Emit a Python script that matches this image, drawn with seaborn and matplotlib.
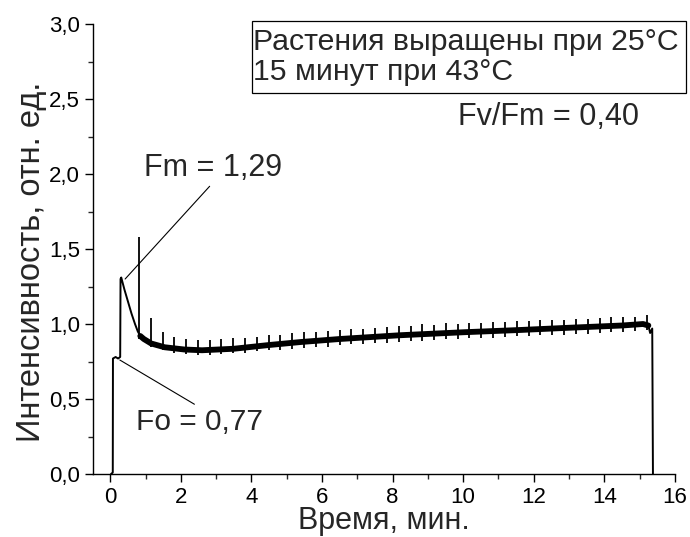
import matplotlib
matplotlib.use('Agg')
import matplotlib.pyplot as plt
import pandas as pd
import seaborn as sns
from matplotlib.patches import Rectangle
from matplotlib.ticker import MultipleLocator

# fluorescence trace (time in min, rel. units)
trace_t = [0.02, 0.07, 0.075, 0.15, 0.22, 0.28, 0.29, 0.31, 0.40, 0.50, 0.60, 0.70,
           0.78, 0.85, 0.95, 1.16, 1.54, 2.10, 2.60, 3.50, 4.50, 5.40, 6.50, 8.20,
           10.0, 11.6, 13.0, 14.5, 15.10, 15.25, 15.30, 15.36, 15.38]
trace_v = [0.00, 0.01, 0.77, 0.78, 0.77, 0.78, 1.30, 1.31, 1.23, 1.15, 1.07, 1.00,
           0.95, 0.92, 0.90, 0.87, 0.845, 0.83, 0.825, 0.835, 0.86, 0.88, 0.90, 0.925,
           0.945, 0.96, 0.975, 0.99, 1.00, 0.99, 0.94, 0.97, 0.00]

# saturating flash spikes
spike_t = [0.80, 1.14, 1.48, 1.81, 2.14, 2.48, 2.82, 3.15, 3.48, 3.82, 4.16, 4.49,
           4.82, 5.16, 5.49, 5.83, 6.16, 6.50, 6.83, 7.17, 7.50, 7.84, 8.17, 8.51,
           8.84, 9.18, 9.51, 9.85, 10.18, 10.52, 10.85, 11.19, 11.52, 11.86, 12.19,
           12.53, 12.86, 13.20, 13.53, 13.87, 14.20, 14.54, 14.87, 15.21]
spike_hi = [1.58, 1.04, 0.95, 0.915, 0.90, 0.895, 0.895, 0.90, 0.905, 0.91, 0.915, 0.925,
            0.93, 0.94, 0.945, 0.95, 0.955, 0.96, 0.965, 0.97, 0.975, 0.98, 0.985, 0.99,
            1.00, 0.995, 1.005, 1.00, 1.01, 1.01, 1.015, 1.015, 1.02, 1.02, 1.025,
            1.03, 1.03, 1.035, 1.035, 1.04, 1.045, 1.05, 1.05, 1.06]
spike_lo = [0.90, 0.85, 0.83, 0.81, 0.80, 0.795, 0.795, 0.80, 0.805, 0.81, 0.82, 0.825,
            0.83, 0.835, 0.84, 0.845, 0.85, 0.86, 0.865, 0.87, 0.875, 0.875, 0.88, 0.885,
            0.89, 0.895, 0.90, 0.90, 0.905, 0.91, 0.91, 0.915, 0.92, 0.92, 0.925,
            0.93, 0.93, 0.935, 0.935, 0.94, 0.945, 0.95, 0.955, 0.96]

y_ticks = [0.0, 0.5, 1.0, 1.5, 2.0, 2.5, 3.0]
y_labels = ['0,0', '0,5', '1,0', '1,5', '2,0', '2,5', '3,0']
x_ticks = [0, 2, 4, 6, 8, 10, 12, 14, 16]

sns.set_style('ticks')
plt.rcParams['font.family'] = ['Liberation Sans', 'DejaVu Sans']

fig, ax = plt.subplots(figsize=(6.9, 5.37), dpi=100)
fig.subplots_adjust(left=0.1343, right=0.978, bottom=0.1173, top=0.9553)

df = pd.DataFrame({'t': trace_t, 'v': trace_v})
sns.lineplot(data=df, x='t', y='v', sort=False, estimator=None,
             color='black', lw=1.4, ax=ax)
# noisy plateau looks thicker
plateau = df[(df['t'] >= 0.85) & (df['t'] <= 15.25)]
sns.lineplot(data=plateau, x='t', y='v', sort=False, estimator=None,
             color='black', lw=4.2, ax=ax)
ax.vlines(spike_t, spike_lo, spike_hi, color='black', lw=1.3)

ax.set_xlim(-0.5, 16)
ax.set_ylim(0, 3)
ax.set_xticks(x_ticks)
ax.set_yticks(y_ticks)
ax.set_yticklabels(y_labels)
ax.xaxis.set_minor_locator(MultipleLocator(1))
ax.yaxis.set_minor_locator(MultipleLocator(0.25))
ax.tick_params(which='major', length=5.5, width=1, labelsize=16, colors='black')
ax.tick_params(which='minor', length=3.5, width=1)
for s in ['top', 'right']:
    ax.spines[s].set_visible(False)
for s in ['left', 'bottom']:
    ax.spines[s].set_linewidth(1)
    ax.spines[s].set_color('black')

ax.set_xlabel('Время, мин.', fontsize=22, labelpad=-1)
ax.set_ylabel('Интенсивность, отн. ед.', fontsize=23.5)
ax.yaxis.set_label_coords(-0.078, 0.471)

arrow = dict(arrowstyle='-', color='black', lw=0.8, shrinkA=0, shrinkB=0)
ax.annotate('Fm = 1,29', xy=(0.42, 1.30), xytext=(2.9, 2.04), ha='center', va='center',
            fontsize=22, arrowprops=dict(arrow, relpos=(0.5, 0)))
ax.annotate('Fo = 0,77', xy=(0.27, 0.76), xytext=(2.54, 0.35), ha='center', va='center',
            fontsize=21.5, arrowprops=dict(arrow, relpos=(0.5, 1)))

ax.add_patch(Rectangle((0.2731, 0.846), 0.7458, 0.1607, transform=ax.transAxes,
                       fill=False, ec='black', lw=0.9, clip_on=False))
ax.text(0.2753, 0.9433, 'Растения выращены при 25°C', transform=ax.transAxes,
        ha='left', va='baseline', fontsize=21.8)
ax.text(0.2753, 0.8756, '15 минут при 43°C', transform=ax.transAxes,
        ha='left', va='baseline', fontsize=21.8)
ax.text(0.628, 0.7756, 'Fv/Fm = 0,40', transform=ax.transAxes,
        ha='left', va='baseline', fontsize=22)

fig.savefig('out.png', dpi=100)
